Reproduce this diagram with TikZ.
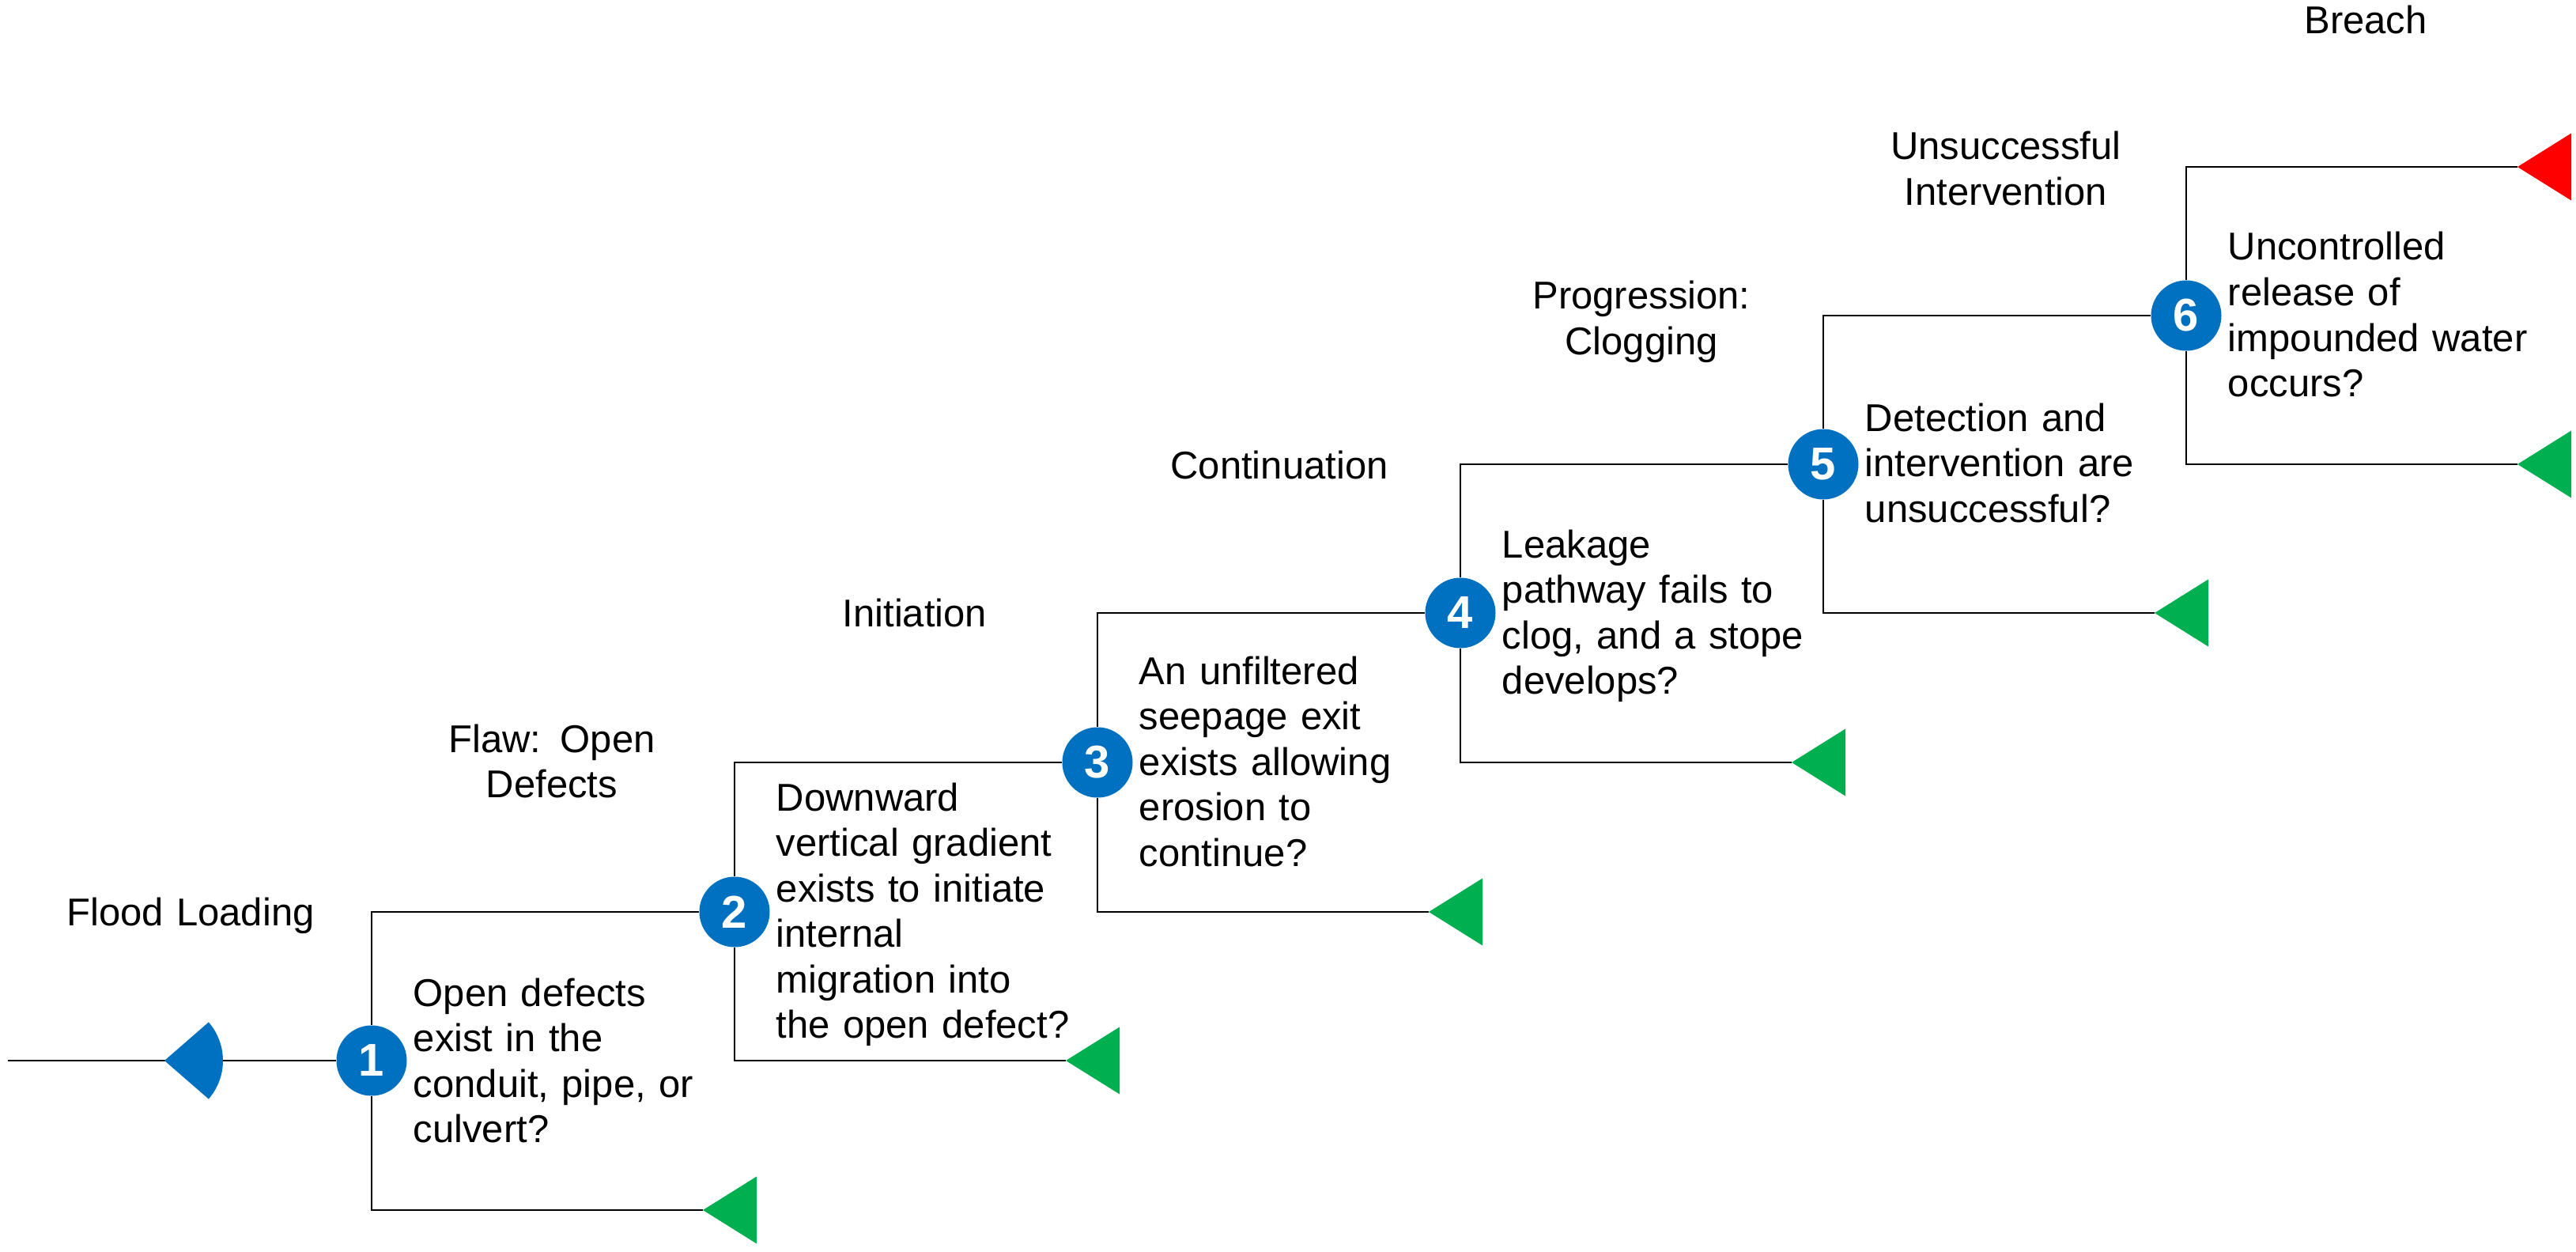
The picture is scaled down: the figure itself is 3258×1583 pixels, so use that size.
\documentclass[tikz,border=0pt]{standalone}
\usepackage{fontspec}
\setmainfont{Liberation Sans}
\definecolor{nodeblue}{HTML}{0070C0}
\definecolor{okgreen}{HTML}{00B050}
\definecolor{failred}{HTML}{FF0000}
\begin{document}
\begin{tikzpicture}[x=0.25pt, y=0.25pt,
  line/.style={draw=black, line width=0.7pt},
  num/.style={circle, fill=nodeblue, text=white, minimum size=22.25pt, inner sep=0pt,
    font=\fontsize{14.5}{17}\selectfont\bfseries},
  question/.style={anchor=base west, inner sep=0pt, text width=110pt, align=left,
    font=\fontsize{12.25}{14.375}\selectfont},
  stage/.style={anchor=base, inner sep=0pt, text width=140pt, align=center,
    font=\fontsize{12.25}{14.375}\selectfont}]
\useasboundingbox (0,0) rectangle (3258,-1583);

% event nodes
\node[num] (n1) at (470,-1341) {1};
\node[num] (n2) at (929,-1153) {2};
\node[num] (n3) at (1388,-964) {3};
\node[num] (n4) at (1847,-775) {4};
\node[num] (n5) at (2306,-587) {5};
\node[num] (n6) at (2765,-399) {6};

% end markers (apex points)
\coordinate (start) at (10,-1341);
\coordinate (fan) at (208,-1341);
\coordinate (g1) at (889,-1530);
\coordinate (g2) at (1348,-1341);
\coordinate (g3) at (1807,-1153);
\coordinate (g4) at (2266,-964);
\coordinate (g5) at (2725,-775);
\coordinate (g6) at (3184,-587);
\coordinate (r6) at (3184,-211);

% connectors
\draw[line] (start) -- (n1);
\draw[line] (n1) |- (n2);
\draw[line] (n1) |- (g1);
\draw[line] (n2) |- (n3);
\draw[line] (n2) |- (g2);
\draw[line] (n3) |- (n4);
\draw[line] (n3) |- (g3);
\draw[line] (n4) |- (n5);
\draw[line] (n4) |- (g4);
\draw[line] (n5) |- (n6);
\draw[line] (n5) |- (g5);
\draw[line] (n6) |- (r6);
\draw[line] (n6) |- (g6);

% markers
\fill[nodeblue] (fan) -- ++(41:18.5pt) arc[start angle=41, end angle=-41, radius=18.5pt] -- cycle;
\foreach \t in {g1,g2,g3,g4,g5,g6}
  \fill[okgreen] (\t) -- ++(68,42.5) -- ++(0,-85) -- cycle;
\fill[failred] (r6) -- ++(68,42.5) -- ++(0,-85) -- cycle;

% questions
\node[question] (q1) at (522,-1272) {Open defects\\exist in the\\conduit, pipe, or\\culvert?};
\node[question] (q2) at (981,-1025) {Downward\\vertical gradient\\exists to initiate\\internal\\migration into\\the open defect?};
\node[question] (q3) at (1440,-865) {An unfiltered\\seepage exit\\exists allowing\\erosion to\\continue?};
\node[question] (q4) at (1899,-705) {Leakage\\pathway fails to\\clog, and a stope\\develops?};
\node[question] (q5) at (2358,-545) {Detection and\\intervention are\\unsuccessful?};
\node[question] (q6) at (2817,-329) {Uncontrolled\\release of\\impounded water\\occurs?};

% stage labels
\node[stage] (s0) at (241,-1170) {Flood Loading};
\node[stage] (s1) at (698,-951) {Flaw: Open\\Defects};
\node[stage] (s2) at (1157,-792) {Initiation};
\node[stage] (s3) at (1618,-605) {Continuation};
\node[stage] (s4) at (2076,-391) {Progression:\\Clogging};
\node[stage] (s5) at (2537,-202) {Unsuccessful\\Intervention};
\node[stage] (s6) at (2992,-43) {Breach};
\end{tikzpicture}
\end{document}
